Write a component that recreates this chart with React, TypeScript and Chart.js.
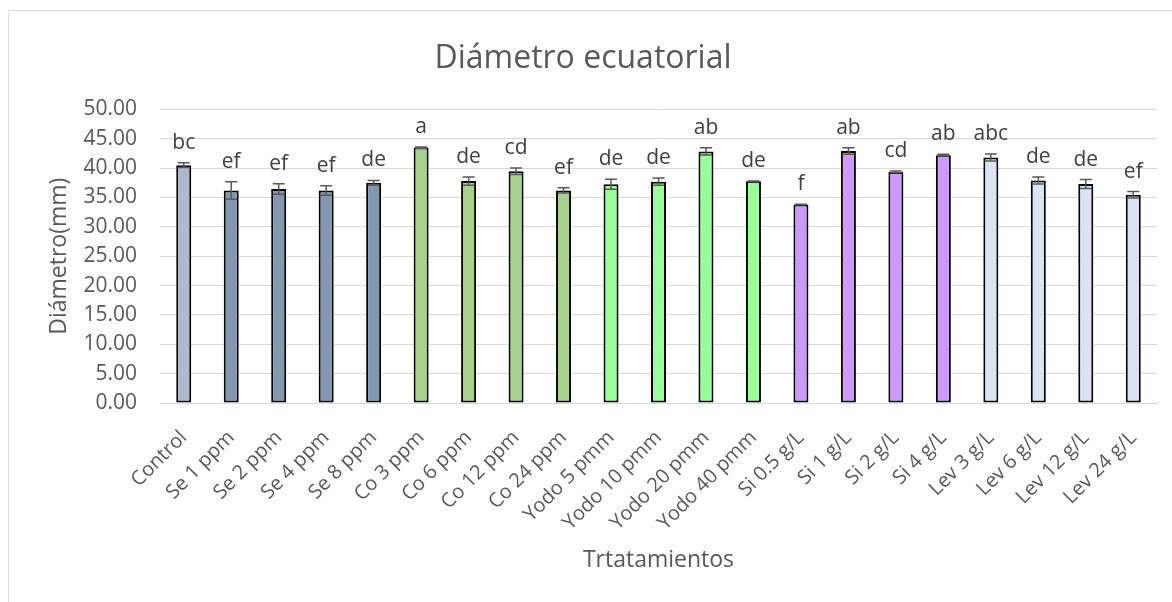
import React, { useEffect, useRef } from "react";
import { Chart, registerables } from "chart.js";

Chart.register(...registerables);

const categories = [
  "Control", "Se 1 ppm", "Se 2 ppm", "Se 4 ppm", "Se 8 ppm",
  "Co 3 ppm", "Co 6 ppm", "Co 12 ppm", "Co 24 ppm",
  "Yodo 5 pmm", "Yodo 10 pmm", "Yodo 20 pmm", "Yodo 40 pmm",
  "Si 0.5 g/L", "Si 1 g/L", "Si 2 g/L", "Si 4 g/L",
  "Lev 3 g/L", "Lev 6 g/L", "Lev 12 g/L", "Lev 24 g/L",
];
const values = [
  40.5, 36.2, 36.45, 36.2, 37.5,
  43.5, 37.8, 39.45, 36.2,
  37.25, 37.7, 42.85, 37.75,
  33.8, 42.9, 39.35, 42.2,
  41.8, 37.9, 37.3, 35.45,
];
const errors = [
  0.4, 1.5, 0.9, 0.8, 0.4,
  0.1, 0.7, 0.55, 0.45,
  0.85, 0.6, 0.6, 0.05,
  0.05, 0.55, 0.15, 0.15,
  0.6, 0.6, 0.75, 0.55,
];
const letters = [
  "bc", "ef", "ef", "ef", "de",
  "a", "de", "cd", "ef",
  "de", "de", "ab", "de",
  "f", "ab", "cd", "ab",
  "abc", "de", "de", "ef",
];
const groupColors = {
  Control: "#ADB9CA",
  Se: "#8497B0",
  Co: "#A9D18E",
  Yodo: "#99FF99",
  Si: "#CC99FF",
  Lev: "#DAE3F3",
};
const yTicks = [0, 5, 10, 15, 20, 25, 30, 35, 40, 45, 50];

const FONT = "'Open Sans', 'Noto Sans', sans-serif";
const TEXT = "#595959";

const barColors = categories.map((c) => groupColors[c.split(" ")[0] as keyof typeof groupColors]);

const errorPlugin = {
  id: "errorAndLetters",
  afterDatasetsDraw(chart: any) {
    const ctx = chart.ctx;
    const meta = chart.getDatasetMeta(0);
    const y = chart.scales.y;
    ctx.save();
    meta.data.forEach((bar: any, i: number) => {
      const x = bar.x;
      const top = y.getPixelForValue(values[i] + errors[i]);
      const bot = y.getPixelForValue(values[i] - errors[i]);
      const cap = 6;
      ctx.strokeStyle = "#595959";
      ctx.lineWidth = 1.5;
      ctx.beginPath();
      ctx.moveTo(x, top);
      ctx.lineTo(x, bot);
      ctx.moveTo(x - cap, top);
      ctx.lineTo(x + cap, top);
      ctx.moveTo(x - cap, bot);
      ctx.lineTo(x + cap, bot);
      ctx.stroke();
      ctx.fillStyle = "#404040";
      ctx.font = `21px ${FONT}`;
      ctx.textAlign = "center";
      ctx.textBaseline = "alphabetic";
      ctx.fillText(letters[i], x, top - 14);
    });
    ctx.restore();
  },
};

export default function App() {
  const ref = useRef<HTMLCanvasElement | null>(null);
  useEffect(() => {
    document.documentElement.style.overflow = "hidden";
    document.body.style.overflow = "hidden";
    if (!ref.current) return;
    const chart = new Chart(ref.current, {
      type: "bar",
      data: {
        labels: categories,
        datasets: [
          {
            data: values,
            backgroundColor: barColors,
            borderColor: "#000000",
            borderWidth: 2,
            borderSkipped: false,
            barPercentage: 0.316,
            categoryPercentage: 1,
          },
        ],
      },
      options: {
        animation: false,
        responsive: true,
        maintainAspectRatio: false,
        layout: { padding: { left: 0, right: 15, top: 0, bottom: 0 } },
        plugins: {
          legend: { display: false },
          tooltip: { enabled: false },
          title: {
            display: true,
            text: "Diámetro ecuatorial",
            color: TEXT,
            font: { family: FONT, size: 32, weight: "normal", lineHeight: 1.2 },
            padding: { top: 29, bottom: 31 },
          },
        },
        scales: {
          x: {
            grid: { display: false },
            border: { display: true, color: "#D9D9D9", width: 1 },
            ticks: {
              color: TEXT,
              font: { family: FONT, size: 20 },
              autoSkip: false,
              maxRotation: 45,
              minRotation: 45,
              padding: 15,
            },
            title: {
              display: true,
              text: "Trtatamientos",
              color: TEXT,
              font: { family: FONT, size: 23, weight: "normal", lineHeight: 1.2 },
              padding: { top: 0, bottom: 28 },
            },
            afterFit(scale: any) {
              scale.height = 199;
            },
          },
          y: {
            min: 0,
            max: 50,
            afterBuildTicks(scale: any) {
              scale.ticks = yTicks.map((v) => ({ value: v }));
            },
            grid: { color: "#D9D9D9", lineWidth: 1, drawTicks: false },
            border: { display: false },
            ticks: {
              color: TEXT,
              font: { family: FONT, size: 21 },
              padding: 23,
              callback: (v: any) => Number(v).toFixed(2),
            },
            title: {
              display: true,
              text: "Diámetro(mm)",
              color: TEXT,
              font: { family: FONT, size: 23, weight: "normal", lineHeight: 1.2 },
              padding: { top: 37, bottom: 0 },
            },
            afterFit(scale: any) {
              scale.width = 151;
            },
          },
        },
      },
      plugins: [errorPlugin],
    });
    return () => chart.destroy();
  }, []);

  return (
    <div
      style={{
        position: "fixed",
        left: 8,
        top: 10,
        width: 1200,
        height: 650,
        border: "1px solid #D9D9D9",
        background: "#fff",
        boxSizing: "border-box",
      }}
    >
      <div style={{ position: "absolute", left: 0, top: 0, width: 1163, height: 591 }}>
        <canvas ref={ref} />
      </div>
    </div>
  );
}
